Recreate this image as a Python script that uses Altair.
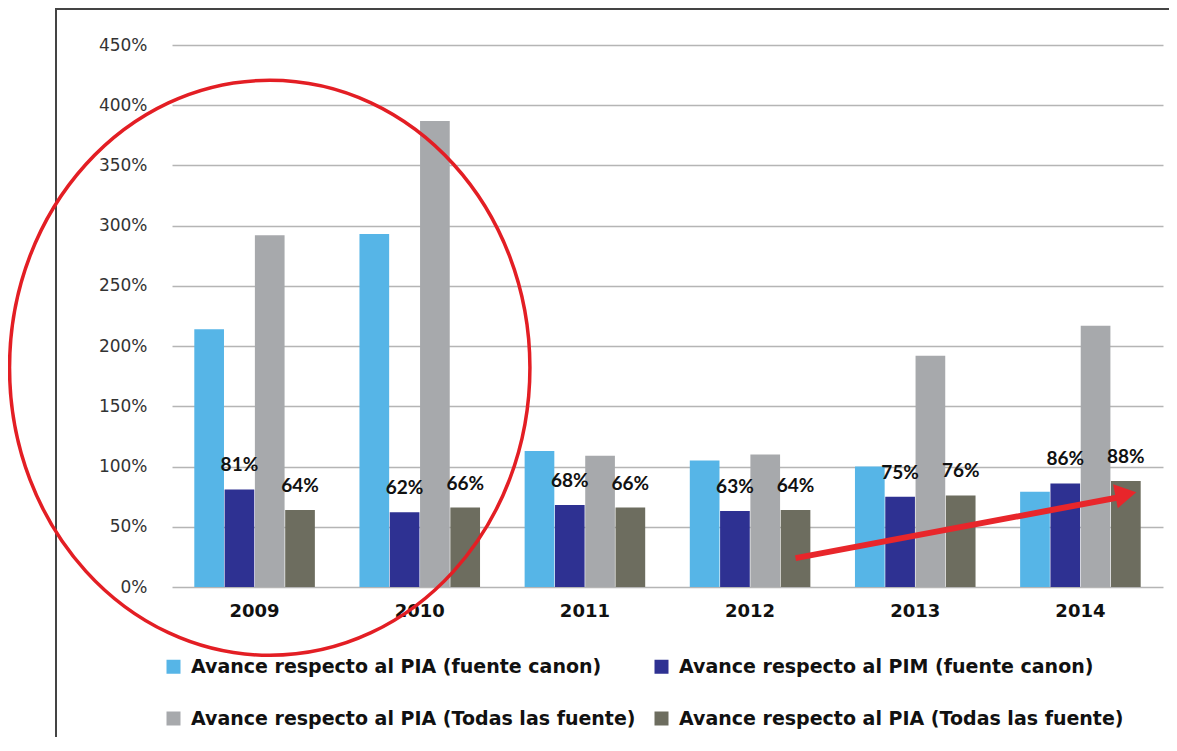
import altair as alt
import pandas as pd

# ---------------- data ----------------
years = ["2009", "2010", "2011", "2012", "2013", "2014"]
series_keys = ["A", "B", "C", "D"]
series_names = [
    "Avance respecto al PIA (fuente canon)",
    "Avance respecto al PIM (fuente canon)",
    "Avance respecto al PIA (Todas las fuente)",
    "Avance respecto al PIA (Todas las fuente)",
]
series_colors = ["#56b5e7", "#2e3192", "#a7a9ac", "#6d6d5f"]

pia_canon = [2.14, 2.93, 1.13, 1.05, 1.00, 0.79]
pim_canon = [0.81, 0.62, 0.68, 0.63, 0.75, 0.86]
pia_todas = [2.92, 3.87, 1.09, 1.10, 1.92, 2.17]
pia_todas_b = [0.64, 0.66, 0.66, 0.64, 0.76, 0.88]
labeled_series = ["B", "D"]
y_ticks = [0, 0.5, 1.0, 1.5, 2.0, 2.5, 3.0, 3.5, 4.0, 4.5]

# annotations (red ellipse around 2009-2010, red arrow 2012 -> 2014)
circle_year = ["2009"]
circle_series = ["C"]
circle_value = [1.82]
arrow_years = ["2012", "2014"]
arrow_series = ["D", "D"]
arrow_values = [0.24, 0.755]
arrowhead_value = [0.77]

# ---------------- tables ----------------
all_values = [pia_canon, pim_canon, pia_todas, pia_todas_b]
rows = []
for key, vals in zip(series_keys, all_values):
    for yr, v in zip(years, vals):
        rows.append({"year": yr, "series": key, "value": v})
df = pd.DataFrame(rows)

circle_df = pd.DataFrame({"year": circle_year, "series": circle_series, "value": circle_value})
arrow_df = pd.DataFrame({"year": arrow_years, "series": arrow_series, "value": arrow_values})
head_df = pd.DataFrame({"year": [arrow_years[-1]], "series": [arrow_series[-1]], "value": arrowhead_value})
frame_df = pd.DataFrame({"frame": [0]})

label_map = "{" + ",".join(f"'{k}':'{n}'" for k, n in zip(series_keys, series_names)) + "}"

BOLD_FONT = "DejaVu Sans"
LABEL_FONT = "Lato"

x_enc = alt.X(
    "year:N",
    sort=years,
    scale=alt.Scale(paddingInner=0.27, paddingOuter=0.135),
    axis=alt.Axis(
        title=None, labelAngle=0, labelFontWeight="bold", labelFontSize=18,
        labelFont=BOLD_FONT, labelColor="#111", labelPadding=15, domain=False, ticks=False,
    ),
)
xoff_enc = alt.XOffset("series:N", sort=series_keys, scale=alt.Scale(paddingInner=0.02))
y_enc = alt.Y(
    "value:Q",
    scale=alt.Scale(domain=[0, 4.5], nice=False),
    axis=alt.Axis(
        title=None, values=y_ticks, format=".0%", grid=True, gridColor="#b5b5b5",
        gridWidth=1.5, domain=False, ticks=False, labelFontSize=17, labelFont="DejaVu Sans",
        labelColor="#333", labelPadding=25,
    ),
)

bars = alt.Chart(df).mark_bar().encode(
    x=x_enc,
    xOffset=xoff_enc,
    y=y_enc,
    color=alt.Color(
        "series:N",
        sort=series_keys,
        scale=alt.Scale(domain=series_keys, range=series_colors),
        legend=alt.Legend(
            title=None, orient="none", legendX=-8, legendY=612, direction="horizontal",
            columns=2, columnPadding=16, rowPadding=32, symbolType="square",
            symbolSize=196, symbolStrokeWidth=0, symbolOpacity=1, labelFont=BOLD_FONT,
            labelFontSize=19, labelFontWeight="bold", labelColor="#111", labelOffset=8,
            labelLimit=600, labelExpr=label_map + "[datum.label]", padding=0,
        ),
    ),
)

labels = alt.Chart(df).transform_filter(
    alt.FieldOneOfPredicate(field="series", oneOf=labeled_series)
).mark_text(
    baseline="bottom", dy=-14, font=LABEL_FONT, fontSize=19, fontWeight="bold", color="#111"
).encode(
    x=alt.X("year:N", sort=years),
    xOffset=alt.XOffset("series:N", sort=series_keys),
    y="value:Q",
    text=alt.Text("value:Q", format=".0%"),
)

ellipse_path = "M -0.905 0 A 0.905 1 0 1 0 0.905 0 A 0.905 1 0 1 0 -0.905 0 Z"
ellipse = alt.Chart(circle_df).mark_point(
    shape=ellipse_path, size=575 * 575, filled=False, stroke="#e31e24",
    strokeWidth=3.5, opacity=1, clip=False,
).encode(
    x=alt.X("year:N", sort=years),
    xOffset=alt.XOffset("series:N", sort=series_keys),
    y="value:Q",
)

arrow = alt.Chart(arrow_df).mark_line(color="#e8262b", strokeWidth=6).encode(
    x=alt.X("year:N", sort=years),
    xOffset=alt.XOffset("series:N", sort=series_keys),
    y="value:Q",
)

head = alt.Chart(head_df).mark_point(
    shape="triangle-right", filled=True, size=600, color="#e8262b", opacity=1, angle=349,
).encode(
    x=alt.X("year:N", sort=years),
    xOffset=alt.XOffset("series:N", sort=series_keys),
    y="value:Q",
)

# outer frame of the figure (top and left edges; the rest lies beyond the page)
frame_top = alt.Chart(frame_df).mark_rule(color="#444", strokeWidth=2, clip=False).encode(
    x=alt.value(-117), x2=alt.value(1010), y=alt.value(-36),
)
frame_left = alt.Chart(frame_df).mark_rule(color="#444", strokeWidth=2, clip=False).encode(
    x=alt.value(-116), y=alt.value(-37), y2=alt.value(720),
)

chart = alt.layer(frame_top, frame_left, bars, labels, arrow, head, ellipse).properties(
    width=991,
    height=542,
    autosize=alt.AutoSizeParams(type="none"),
    padding={"left": 164, "top": 37, "right": 6, "bottom": 150},
    background="white",
).configure_view(stroke=None)

chart.save("out.html", embed_options={"renderer": "svg", "actions": False})
